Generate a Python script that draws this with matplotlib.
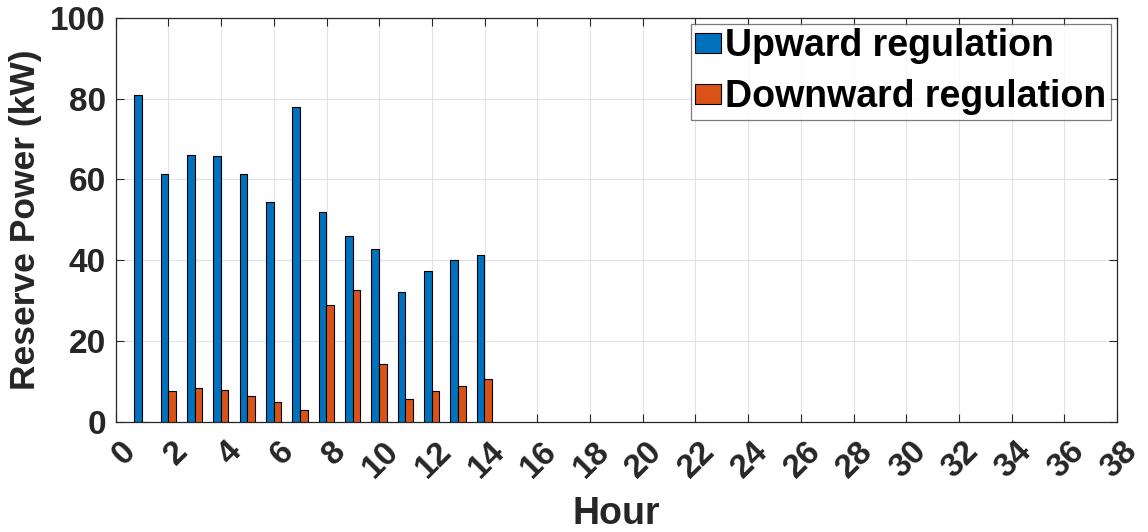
import numpy as np
import matplotlib
matplotlib.use('Agg')
import matplotlib.pyplot as plt
import matplotlib.transforms as mtransforms

# 每小时的备用容量 (kW)
hours = np.arange(1, 15)
upward = [80.9, 61.4, 65.9, 65.8, 61.2, 54.5, 78.0, 52.0, 45.9, 42.7, 32.2, 37.2, 40.0, 41.3]
downward = [0.0, 7.5, 8.3, 7.8, 6.4, 5.0, 2.8, 28.9, 32.6, 14.4, 5.5, 7.5, 8.8, 10.5]
series_names = ['Upward regulation', 'Downward regulation']
x_ticks = list(range(0, 39, 2))
y_ticks = list(range(0, 101, 20))

plt.rcParams['font.family'] = ['Liberation Sans', 'DejaVu Sans']
plt.rcParams['font.weight'] = 'bold'

txt_color = '#262626'
blue = '#0072BD'
orange = '#D95319'

fig = plt.figure(figsize=(11.48, 5.32), dpi=100)
ax = fig.add_axes([0.1008, 0.2073, 0.8722, 0.7594])

bar_w = 0.29
ax.bar(hours - 0.155, upward, width=bar_w, color=blue, edgecolor='black',
       linewidth=0.8, label=series_names[0], zorder=3)
ax.bar(hours + 0.135, downward, width=bar_w, color=orange, edgecolor='black',
       linewidth=0.8, label=series_names[1], zorder=3)

ax.set_xlim(0, 38)
ax.set_ylim(0, 100)
ax.set_xticks(x_ticks)
ax.set_yticks(y_ticks)
ax.set_xticklabels([str(t) for t in x_ticks], rotation=45, ha='right',
                   va='top', rotation_mode='anchor')
ax.tick_params(axis='both', labelsize=24, colors=txt_color, direction='in',
               length=6, width=0.8, top=True, right=True)
ax.tick_params(axis='x', pad=10)
ax.tick_params(axis='y', pad=7)
# 斜标签稍微右移
shift = mtransforms.ScaledTranslation(4 / 100, 0, fig.dpi_scale_trans)
for lab in ax.get_xticklabels():
    lab.set_transform(lab.get_transform() + shift)
for lab in ax.get_xticklabels() + ax.get_yticklabels():
    lab.set_fontweight('bold')
for sp in ax.spines.values():
    sp.set_color(txt_color)
    sp.set_linewidth(0.9)

ax.grid(True, color='#e3e3e3', linewidth=0.8, zorder=0)
ax.set_axisbelow(True)

ax.set_xlabel('Hour', fontsize=27, fontweight='bold', color=txt_color, labelpad=9)
ax.set_ylabel('Reserve Power (kW)', fontsize=25.5, fontweight='bold', color=txt_color, labelpad=6)

leg = ax.legend(loc='upper right', bbox_to_anchor=(0.994, 0.985), fontsize=27,
                frameon=True, fancybox=False, handlelength=0.7, handleheight=0.42,
                handletextpad=0.1, borderpad=0.12, labelspacing=0.4,
                borderaxespad=0)
leg.get_frame().set_edgecolor('#5a5a5a')
leg.get_frame().set_linewidth(0.9)
for t in leg.get_texts():
    t.set_fontweight('bold')
    t.set_color('black')

fig.savefig('out.png', dpi=100)
